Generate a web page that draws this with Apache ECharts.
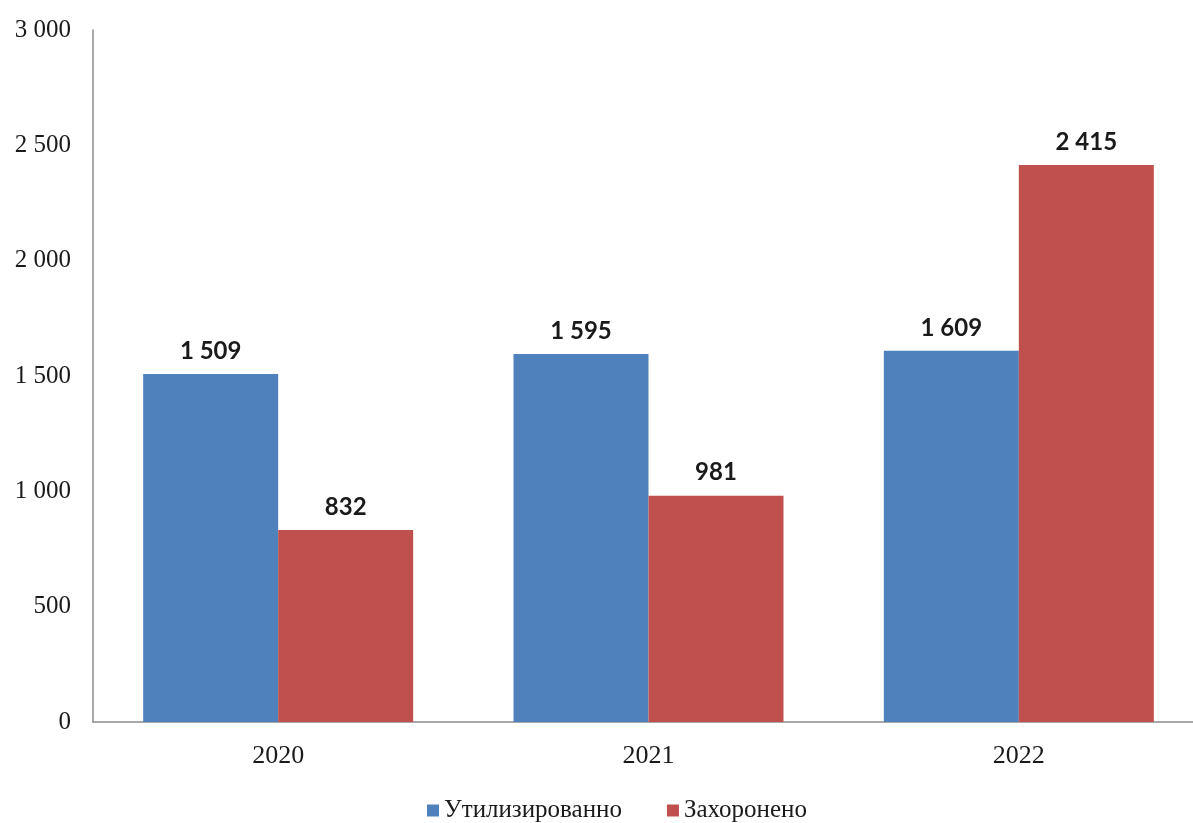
<!DOCTYPE html>
<html><head><meta charset="utf-8">
<script src="https://cdn.jsdelivr.net/npm/echarts@6/dist/echarts.min.js"></script>
<style>html,body{margin:0;padding:0;background:#fff}#c{width:1193px;height:823px}</style>
</head><body><div id="c"></div>
<script>
const categories = ['2020', '2021', '2022'];
const utilized = [1509, 1595, 1609];
const buried = [832, 981, 2415];
const seriesNames = ['Утилизированно', 'Захоронено'];

function fmt(v) { return String(v).replace(/\B(?=(\d{3})+(?!\d))/g, ' '); }

const chart = echarts.init(document.getElementById('c'));
const labelStyle = {
  show: true, position: 'top', distance: 11,
  fontFamily: 'Lato', fontWeight: 'bold', fontSize: 24, color: '#1a1a1a',
  formatter: p => fmt(p.value)
};
chart.setOption({
  animation: false,
  backgroundColor: '#fff',
  grid: { left: 93, top: 30, bottom: 101, width: 1111, outerBoundsMode: 'none', containLabel: false },
  legend: {
    left: 422, top: 793, itemWidth: 12, itemHeight: 12, itemGap: 45,
    icon: 'rect',
    textStyle: { fontFamily: 'Liberation Serif', fontSize: 25, color: '#1a1a1a' },
    data: seriesNames
  },
  xAxis: {
    type: 'category', data: categories,
    axisLine: { lineStyle: { color: '#8c8c8c', width: 1.5 } },
    axisTick: { show: false },
    axisLabel: { margin: 21, fontFamily: 'Liberation Serif', fontSize: 26, color: '#1a1a1a' }
  },
  yAxis: {
    type: 'value', min: 0, max: 3000, interval: 500,
    axisLine: { show: true, lineStyle: { color: '#8c8c8c', width: 1.5 } },
    axisTick: { show: false },
    splitLine: { show: false },
    axisLabel: { margin: 22, fontFamily: 'Liberation Serif', fontSize: 25, color: '#1a1a1a', formatter: v => fmt(v) }
  },
  series: [
    { name: seriesNames[0], type: 'bar', data: utilized, barWidth: 135, barGap: '0%',
      itemStyle: { color: '#4F81BD' }, label: labelStyle },
    { name: seriesNames[1], type: 'bar', data: buried, barWidth: 135, barGap: '0%',
      itemStyle: { color: '#C0504D' }, label: labelStyle }
  ]
});
</script></body></html>
